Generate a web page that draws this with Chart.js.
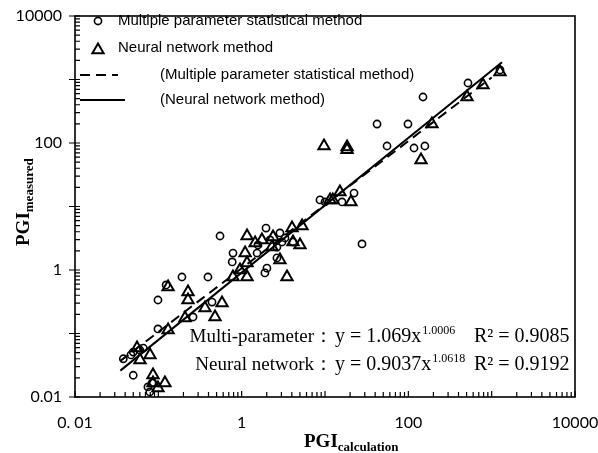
<!DOCTYPE html>
<html lang="en">
<head>
<meta charset="UTF-8">
<title>PGI calculation vs measured</title>
<script src="https://cdn.jsdelivr.net/npm/chart.js"></script>
<style>
    html, body { margin: 0; padding: 0; background: #fff; }
    .chart-box { width: 598px; height: 453px; }
</style>
</head>
<body>
<div class="chart-box"><canvas id="pgiChart" width="598" height="453"></canvas></div>
<script>
// multiple parameter statistical method (circles)
const multiX = [0.038, 0.050, 0.075, 0.079, 0.084, 0.099, 0.099, 0.060, 0.066, 0.050, 0.047,
    0.192, 0.394, 0.124, 0.261, 0.441, 0.55, 0.787, 0.77, 1.96, 2.88, 3.05, 1.53, 2.01,
    1.90, 3.31, 2.65, 4.13, 2.19, 1.57, 2.65, 8.71, 10.0, 16.0, 22.3, 27.8, 55.5, 42.1,
    99, 117, 158, 150, 520, 1259];
const multiY = [0.040, 0.022, 0.0144, 0.012, 0.0166, 0.337, 0.118, 0.055, 0.059, 0.051, 0.046,
    0.776, 0.776, 0.581, 0.182, 0.313, 3.43, 1.85, 1.34, 4.58, 3.83, 2.76, 1.85, 1.07,
    0.90, 3.19, 1.55, 2.76, 2.97, 2.48, 2.30, 12.7, 11.8, 11.8, 16.3, 2.57, 89.7, 199,
    199, 83.4, 89.7, 530, 881, 1413];

// neural network method (triangles)
const neuralX = [9.73, 18.4, 18.4, 192, 142, 506, 787, 1259, 20.5, 11.5, 12.4, 15.1,
    1.16, 1.75, 4.02, 5.30, 2.88, 3.50, 2.38, 4.13, 5.01, 1.10, 1.16, 0.787, 1.16, 2.31,
    1.45, 0.955, 0.131, 0.227, 0.227, 0.363, 0.581, 0.479, 0.0794, 0.0603, 0.0555, 0.131,
    0.209, 0.0863, 0.120, 0.0863, 0.099];
const neuralY = [89.7, 86.5, 78, 199, 54, 530, 819, 1313, 11.8, 12.7, 12.7, 16.9,
    3.43, 2.97, 4.58, 4.93, 1.44, 0.776, 3.31, 2.76, 2.48, 1.85, 1.29, 0.776, 0.776, 2.30,
    2.66, 1.0, 0.54, 0.451, 0.337, 0.252, 0.302, 0.182, 0.0458, 0.0383, 0.059, 0.1135,
    0.175, 0.0222, 0.0166, 0.0166, 0.0139];

// fitted lines, end points
const multiFitX = [0.035, 1000];
const multiFitY = [0.037, 1077];
const neuralFitX = [0.035, 1330];
const neuralFitY = [0.026, 1875];

const xTickValues = [0.01, 1, 100, 10000];
const xTickText = ['0. 01', '1', '100', '10000'];
const yTickValues = [0.01, 1, 100, 10000];
const yTickText = ['0.01', '1', '100', '10000'];

const legendText = ['Multiple parameter statistical method', 'Neural network method',
    '(Multiple parameter statistical method)', '(Neural network method)'];
const eqLabels = ['Multi-parameter：', 'Neural network：'];
const eqCoef = ['1.069x', '0.9037x'];
const eqPower = ['1.0006', '1.0618'];
const eqR2 = ['0.9085', '0.9192'];

const pts = (xs, ys) => xs.map((x, i) => ({ x: x, y: ys[i] }));

const circleStyle = { pointStyle: 'circle', radius: 3.6, borderWidth: 1.6 };
const triStyle = { pointStyle: 'triangle', radius: 6.5, borderWidth: 2 };

// axis ticks, box, legend, equations, titles
const decorations = {
    id: 'decorations',
    afterDraw(chart) {
        const ctx = chart.ctx;
        const a = chart.chartArea;
        const xs = chart.scales.x, ys = chart.scales.y;
        ctx.save();
        ctx.strokeStyle = '#000';
        ctx.fillStyle = '#000';
        ctx.lineWidth = 1.6;
        ctx.strokeRect(a.left, a.top, a.right - a.left, a.bottom - a.top);

        ctx.lineWidth = 1.2;
        ctx.beginPath();
        for (let k = -2; k <= 4; k++) {
            for (let m = 1; m <= 9; m++) {
                const v = m * Math.pow(10, k);
                if (v > 10000 * 1.001) break;
                const px = xs.getPixelForValue(v);
                const py = ys.getPixelForValue(v);
                const major = m === 1;
                ctx.moveTo(px, a.bottom);
                ctx.lineTo(px, a.bottom - (major ? 6 : 5));
                ctx.moveTo(a.left + (major ? -6 : 0), py);
                ctx.lineTo(a.left + 5, py);
            }
        }
        ctx.stroke();

        // legend
        ctx.lineWidth = 1.6;
        ctx.fillStyle = 'rgba(0,0,0,0)';
        Chart.helpers.drawPoint(ctx, circleStyle, 98, 21);
        ctx.lineWidth = 2;
        Chart.helpers.drawPoint(ctx, triStyle, 98, 50);
        ctx.beginPath();
        ctx.setLineDash([10, 6]);
        ctx.moveTo(80, 75); ctx.lineTo(118, 75);
        ctx.stroke();
        ctx.setLineDash([]);
        ctx.beginPath();
        ctx.moveTo(80, 100); ctx.lineTo(125, 100);
        ctx.stroke();

        ctx.fillStyle = '#000';
        ctx.font = '15px "Liberation Sans"';
        ctx.textBaseline = 'middle';
        ctx.textAlign = 'left';
        ctx.fillText(legendText[0], 118, 21);
        ctx.fillText(legendText[1], 118, 48);
        ctx.fillText(legendText[2], 160, 75);
        ctx.fillText(legendText[3], 160, 100);

        // equations
        ctx.textBaseline = 'alphabetic';
        const rowY = [342, 370];
        for (let i = 0; i < 2; i++) {
            const y = rowY[i];
            ctx.font = '19px "Liberation Serif"';
            ctx.textAlign = 'right';
            ctx.fillText(eqLabels[i], 333, y);
            ctx.textAlign = 'left';
            ctx.font = '20px "Liberation Serif"';
            const eq = 'y = ' + eqCoef[i];
            ctx.fillText(eq, 335, y);
            const ew = ctx.measureText(eq).width;
            ctx.font = '12px "Liberation Serif"';
            ctx.fillText(eqPower[i], 336 + ew, y - 8);
            ctx.font = '20px "Liberation Serif"';
            ctx.fillText('R² = ' + eqR2[i], 474, y);
        }

        // x title
        ctx.textAlign = 'left';
        ctx.font = 'bold 19px "Liberation Serif"';
        ctx.fillText('PGI', 304, 447);
        let w = ctx.measureText('PGI').width;
        ctx.font = 'bold 13px "Liberation Serif"';
        ctx.fillText('calculation', 304 + w, 451);

        // y title
        ctx.translate(29, 246);
        ctx.rotate(-Math.PI / 2);
        ctx.font = 'bold 19px "Liberation Serif"';
        ctx.fillText('PGI', 0, 0);
        w = ctx.measureText('PGI').width;
        ctx.font = 'bold 13px "Liberation Serif"';
        ctx.fillText('measured', w, 4);
        ctx.restore();
    }
};

const logAxis = (values, texts, extra) => Object.assign({
    type: 'logarithmic',
    min: 0.01,
    max: 10000,
    grid: { display: false, drawTicks: false },
    border: { display: false },
    afterBuildTicks: scale => { scale.ticks = values.map(v => ({ value: v })); },
    ticks: {
        autoSkip: false,
        maxRotation: 0,
        color: '#000',
        font: { family: 'Lato', size: 16 },
        callback: (value, index) => texts[index]
    }
}, extra);

const xAxis = logAxis(xTickValues, xTickText, {
    afterFit: scale => {
        scale.height = 56;
        scale.paddingLeft = 0;
        scale.paddingRight = 0;
    }
});
xAxis.ticks.padding = 16;
const yAxis = logAxis(yTickValues, yTickText, {
    afterFit: scale => {
        scale.width = 75;
        scale.paddingTop = 0;
        scale.paddingBottom = 0;
    }
});
yAxis.ticks.padding = 13;

new Chart(document.getElementById('pgiChart'), {
    type: 'scatter',
    data: {
        datasets: [
            {
                label: legendText[0],
                data: pts(multiX, multiY),
                pointStyle: 'circle',
                pointRadius: circleStyle.radius,
                pointBorderWidth: circleStyle.borderWidth,
                pointBorderColor: '#000',
                pointBackgroundColor: 'rgba(0,0,0,0)'
            },
            {
                label: legendText[1],
                data: pts(neuralX, neuralY),
                pointStyle: 'triangle',
                pointRadius: triStyle.radius,
                pointBorderWidth: triStyle.borderWidth,
                pointBorderColor: '#000',
                pointBackgroundColor: 'rgba(0,0,0,0)'
            },
            {
                label: legendText[2],
                data: pts(multiFitX, multiFitY),
                showLine: true,
                pointRadius: 0,
                borderColor: '#000',
                borderWidth: 2,
                borderDash: [10, 6]
            },
            {
                label: legendText[3],
                data: pts(neuralFitX, neuralFitY),
                showLine: true,
                pointRadius: 0,
                borderColor: '#000',
                borderWidth: 2
            }
        ]
    },
    options: {
        responsive: false,
        animation: false,
        devicePixelRatio: 1,
        layout: { padding: { top: 16, right: 23, left: 0, bottom: 0 } },
        plugins: {
            legend: { display: false },
            tooltip: { enabled: false }
        },
        scales: { x: xAxis, y: yAxis }
    },
    plugins: [decorations]
});
</script>
</body>
</html>
